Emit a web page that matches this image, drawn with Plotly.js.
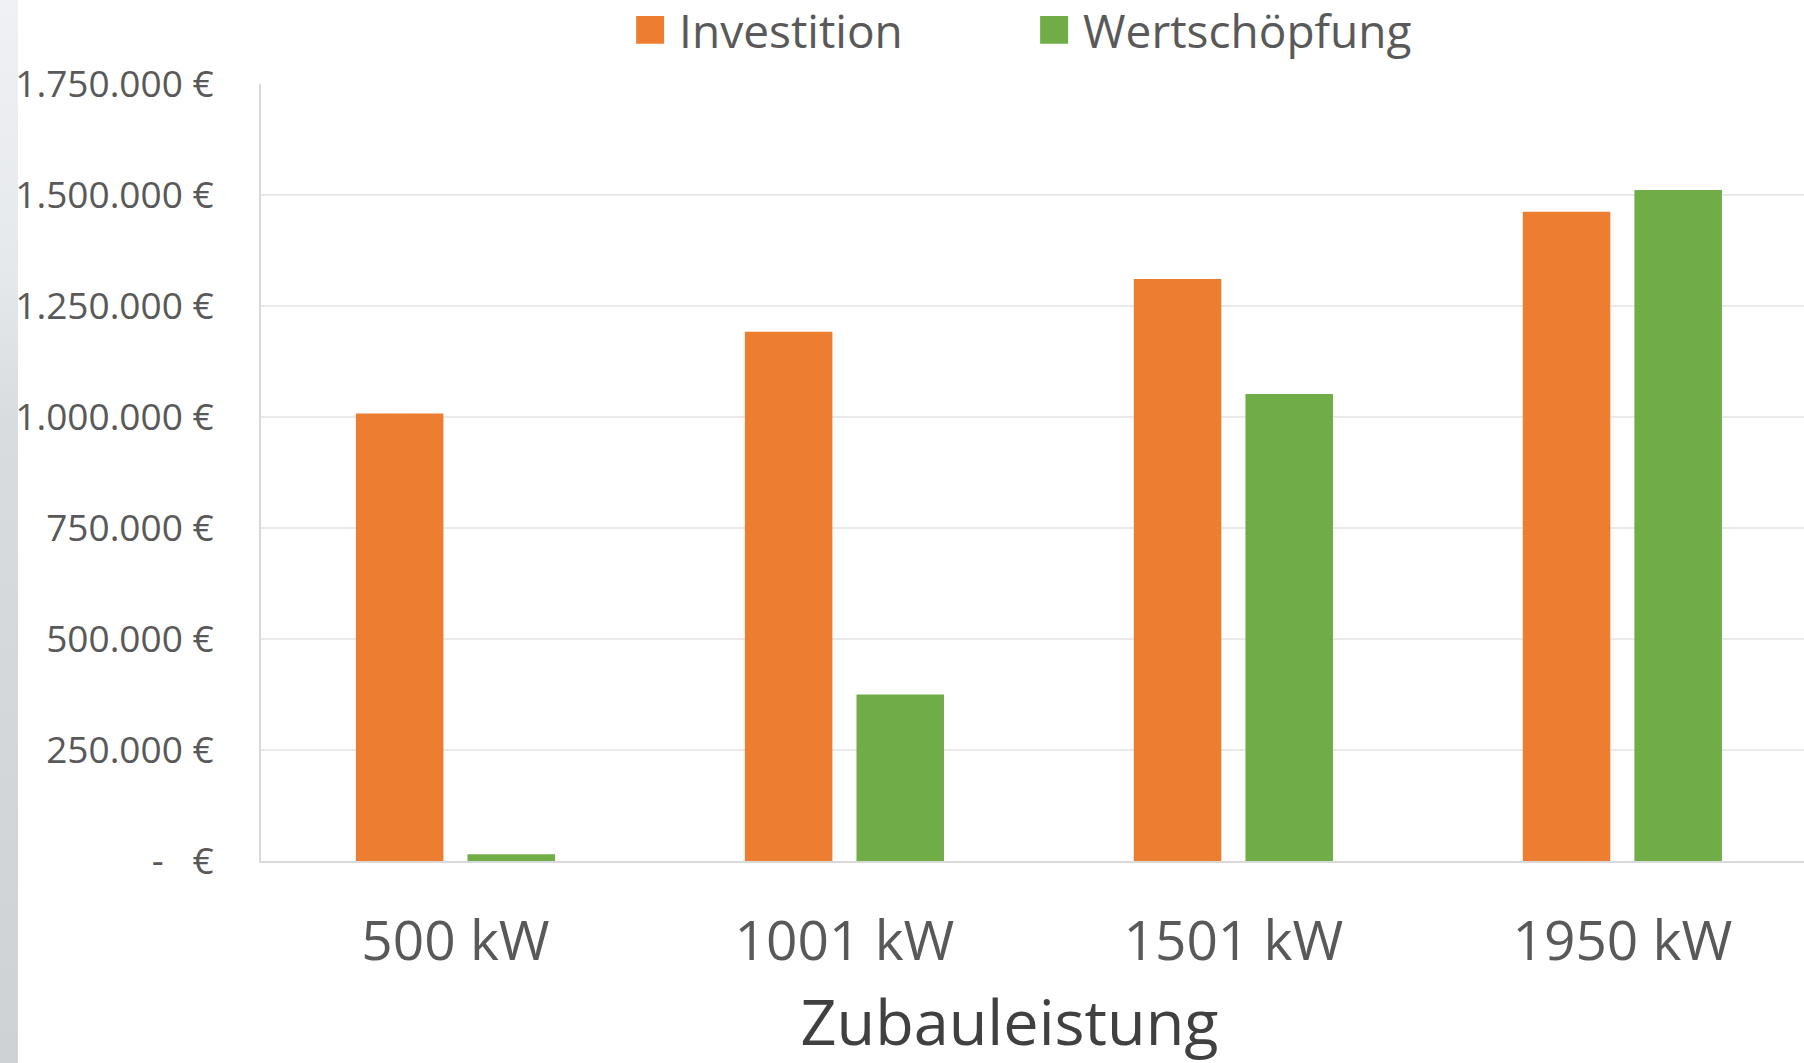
<!DOCTYPE html>
<html>
<head>
<meta charset="utf-8">
<script src="https://cdn.plot.ly/plotly-3.0.1.min.js"></script>
<style>
  html, body { margin: 0; padding: 0; width: 1804px; height: 1063px; overflow: hidden;
    background: linear-gradient(to bottom, #eff1f4 0%, #e6e9ec 25%, #d9dcde 40%, #d4d7d9 70%, #cfd2d4 100%);
  }
  #chart { position: absolute; left: 0; top: 0; width: 1804px; height: 1063px; }
  #cover { position: absolute; left: 18px; top: 0; width: 1786px; height: 1063px; background: #ffffff; }
</style>
</head>
<body>
<div id="cover"></div>
<div id="chart"></div>
<script>
// ---- data ----
const categories = ["500 kW", "1001 kW", "1501 kW", "1950 kW"];
const investition = [1008000, 1192000, 1311000, 1462000];
const wertschoepfung = [15000, 375000, 1052000, 1511000];
const yTickVals = [0, 250000, 500000, 750000, 1000000, 1250000, 1500000, 1750000];
const yTickText = ["-\u00A0\u00A0\u00A0€", "250.000 €", "500.000 €", "750.000 €", "1.000.000 €", "1.250.000 €", "1.500.000 €", "1.750.000 €"];
const seriesNames = ["Investition", "Wertschöpfung"];
const xTitle = "Zubauleistung";

const FONT = "Open Sans, Noto Sans, sans-serif";
const ORANGE = "#ED7D31";
const GREEN = "#70AD47";

const traces = [
  { type: "bar", name: seriesNames[0], x: categories, y: investition,
    marker: { color: ORANGE }, hoverinfo: "skip" },
  { type: "bar", name: seriesNames[1], x: categories, y: wertschoepfung,
    marker: { color: GREEN }, hoverinfo: "skip" }
];

const layout = {
  width: 1804, height: 1063,
  paper_bgcolor: "rgba(0,0,0,0)",
  plot_bgcolor: "#ffffff",
  margin: { l: 261, r: 0, t: 84, b: 202, pad: 0, autoexpand: false },
  barmode: "group",
  bargap: 0.426,
  bargroupgap: 0.216,
  font: { family: FONT, color: "#595959" },
  showlegend: true,
  legend: {
    orientation: "h",
    xref: "container", yref: "container",
    x: 0.3443, xanchor: "left",
    y: 0.9718, yanchor: "middle",
    font: { family: FONT, size: 46, color: "#595959" },
    itemwidth: 48,
    entrywidth: 341,
    bgcolor: "rgba(0,0,0,0)",
    traceorder: "normal"
  },
  xaxis: {
    type: "category",
    range: [-0.5, 3.467],
    showgrid: false,
    showline: true, linecolor: "#d9d9d9", linewidth: 2,
    ticks: "", ticklabelstandoff: 31, tickangle: 0,
    tickfont: { family: FONT, size: 55, color: "#595959" },
    title: { text: xTitle, font: { family: FONT, size: 63, color: "#404040" }, standoff: 35 },
    zeroline: false,
    automargin: false,
    fixedrange: true
  },
  yaxis: {
    range: [0, 1750000],
    tickvals: yTickVals, ticktext: yTickText,
    showgrid: true, gridcolor: "#e9e9e9", gridwidth: 2,
    showline: true, linecolor: "#d9d9d9", linewidth: 2,
    zeroline: false,
    ticks: "", ticklabelstandoff: 38,
    tickfont: { family: FONT, size: 37, color: "#595959" },
    automargin: false,
    fixedrange: true
  }
};

Plotly.newPlot("chart", traces, layout, { displayModeBar: false, staticPlot: true }).then(function () {
  document.querySelectorAll(".legend .legendpoints path").forEach(function (p) {
    const t = p.getAttribute("transform") || "";
    p.setAttribute("transform", t + " scale(2.33)");
  });
  const xt = document.querySelector("text.xtitle");
  if (xt) {
    const t = xt.getAttribute("transform") || "";
    xt.setAttribute("transform", "translate(-23,0) " + t);
  }
});
</script>
</body>
</html>
